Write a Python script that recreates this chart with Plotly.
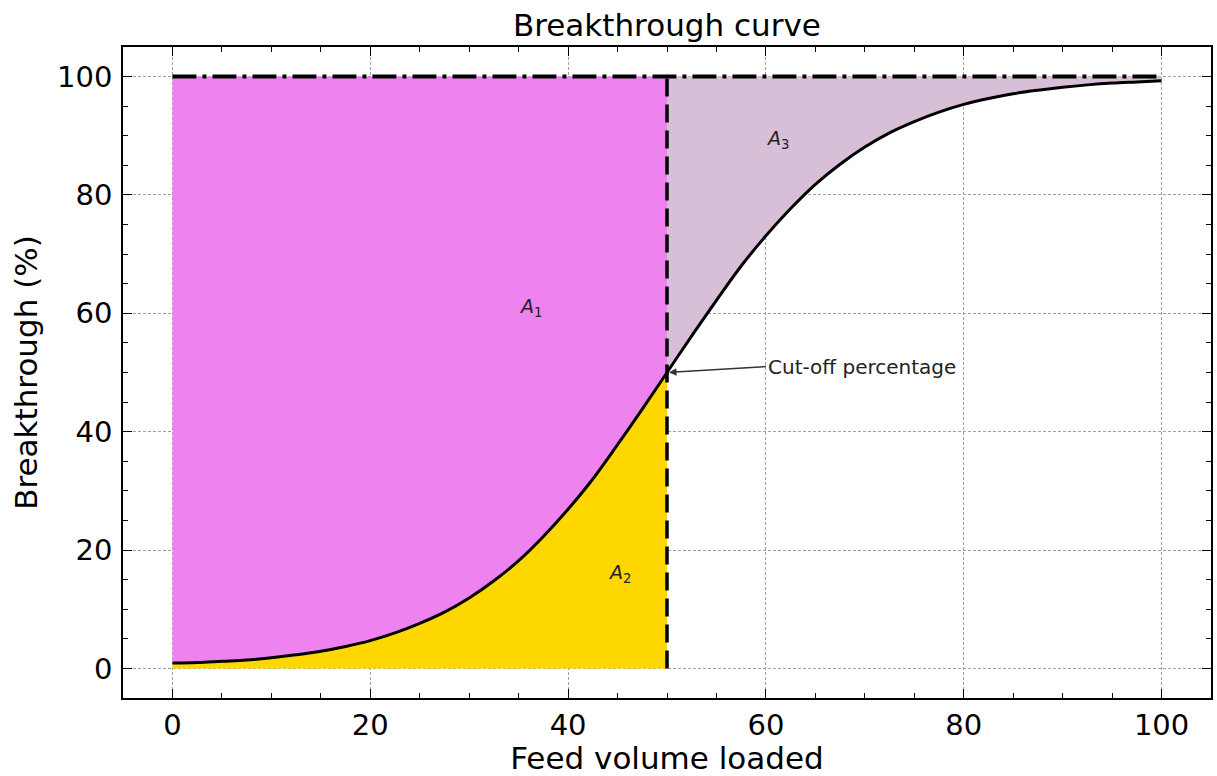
import plotly.graph_objects as go

# Feed volume loaded (x) and breakthrough percentage (y) along the curve
feed_volume = [0, 2.5, 5, 7.5, 10, 12.5, 15, 17.5, 20, 22.5, 25, 27.5, 30, 32.5, 35,
               37.5, 40, 42.5, 45, 47.5, 50, 52.5, 55, 57.5, 60, 62.5, 65, 67.5, 70,
               72.5, 75, 77.5, 80, 82.5, 85, 87.5, 90, 92.5, 95, 97.5, 100]
breakthrough = [0.9, 1.0, 1.2, 1.4, 1.8, 2.3, 2.9, 3.7, 4.7, 6.0, 7.6, 9.5, 11.9, 14.8,
                18.2, 22.3, 26.9, 32.0, 37.8, 43.8, 50.0, 56.2, 62.2, 68.0, 73.1, 77.7,
                81.8, 85.2, 88.1, 90.5, 92.4, 94.0, 95.3, 96.3, 97.1, 97.7, 98.2, 98.6,
                98.9, 99.1, 99.3]

cutoff_volume = 50
cutoff_percentage = 50
saturation = 100

x_ticks = [0, 20, 40, 60, 80, 100]
y_ticks = [0, 20, 40, 60, 80, 100]

area_labels = ["<i>A</i><sub>1</sub>", "<i>A</i><sub>2</sub>", "<i>A</i><sub>3</sub>"]
area_label_pos = [(36.2, 61), (45.2, 16), (61.2, 89.3)]

cutoff_text = "Cut-off percentage"
cutoff_text_pos = (60, 51)

FONT = "DejaVu Sans"

# split the curve at the cut-off volume
x_before = [v for v in feed_volume if v <= cutoff_volume]
y_before = breakthrough[:len(x_before)]
x_after = [v for v in feed_volume if v >= cutoff_volume]
y_after = breakthrough[len(feed_volume) - len(x_after):]

fig = go.Figure()

# A1: between saturation line and curve, before cut-off
fig.add_trace(go.Scatter(
    x=x_before + x_before[::-1],
    y=y_before + [saturation] * len(x_before),
    fill="toself", fillcolor="#EE82EE", line=dict(width=0), mode="lines",
    hoverinfo="skip", showlegend=False))

# A2: under the curve, before cut-off
fig.add_trace(go.Scatter(
    x=x_before + x_before[::-1],
    y=y_before + [0] * len(x_before),
    fill="toself", fillcolor="#FFD700", line=dict(width=0), mode="lines",
    hoverinfo="skip", showlegend=False))

# A3: between saturation line and curve, after cut-off
fig.add_trace(go.Scatter(
    x=x_after + x_after[::-1],
    y=y_after + [saturation] * len(x_after),
    fill="toself", fillcolor="#D8BFD8", line=dict(width=0), mode="lines",
    hoverinfo="skip", showlegend=False))

# cut-off volume marker
fig.add_trace(go.Scatter(
    x=[cutoff_volume, cutoff_volume], y=[0, saturation], mode="lines",
    line=dict(color="black", width=3.5, dash="18px,8px"),
    hoverinfo="skip", showlegend=False))

# saturation level
fig.add_trace(go.Scatter(
    x=[feed_volume[0], feed_volume[-1]], y=[saturation, saturation], mode="lines",
    line=dict(color="black", width=4, dash="24px,6px,4px,6px"),
    hoverinfo="skip", showlegend=False))

# breakthrough curve
fig.add_trace(go.Scatter(
    x=feed_volume, y=breakthrough, mode="lines",
    line=dict(color="black", width=3, shape="spline"),
    showlegend=False))

for label, (lx, ly) in zip(area_labels, area_label_pos):
    fig.add_annotation(x=lx, y=ly, text=label, showarrow=False,
                       font=dict(family=FONT, size=19, color="#222222"))

# cut-off point label with arrow
fig.add_annotation(
    x=cutoff_volume, y=cutoff_percentage, xref="x", yref="y",
    ax=cutoff_text_pos[0], ay=cutoff_text_pos[1], axref="x", ayref="y",
    text=cutoff_text, xanchor="left", yanchor="middle",
    showarrow=True, arrowhead=2, arrowsize=1, arrowwidth=1.5,
    arrowcolor="#333333", standoff=2,
    font=dict(family=FONT, size=20, color="#222222"))

axis_common = dict(
    showline=True, linecolor="black", linewidth=1.5, mirror="allticks",
    ticks="inside", ticklen=9, tickwidth=1.3, tickcolor="black",
    showgrid=True, gridcolor="#a0a0a0", gridwidth=0.8, griddash="3px,2px",
    zeroline=False, tickfont=dict(family=FONT, size=29, color="black"),
    minor=dict(ticks="inside", ticklen=5, tickwidth=1.1, tickcolor="black",
               dtick=5, showgrid=False),
)

fig.update_layout(
    width=1217, height=776,
    margin=dict(l=123, r=4, t=47, b=78),
    paper_bgcolor="white", plot_bgcolor="white",
    title=dict(text="Breakthrough curve", x=0.548, xanchor="center", y=0.967,
               yanchor="middle", font=dict(family=FONT, size=31, color="black")),
    xaxis=dict(range=[-5, 105], tickvals=x_ticks, tick0=0, dtick=20,
               title=dict(text="Feed volume loaded", standoff=4,
                          font=dict(family=FONT, size=31, color="black")),
               **axis_common),
    yaxis=dict(range=[-5, 105], tickvals=y_ticks, tick0=0, dtick=20,
               ticklabelstandoff=3,
               title=dict(text="Breakthrough (%)", standoff=10,
                          font=dict(family=FONT, size=31, color="black")),
               **axis_common),
)

fig.write_html("out.html")
